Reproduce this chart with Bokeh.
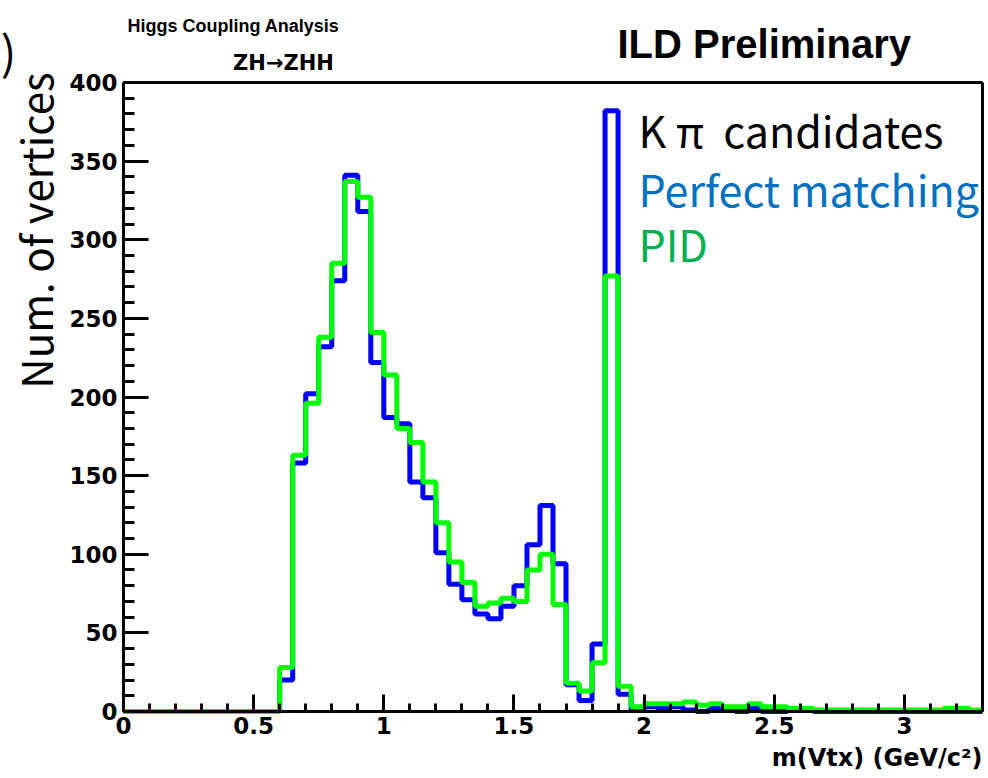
import numpy as np
from bokeh.plotting import figure
from bokeh.models import Range1d, Label, FixedTicker, LinearAxis
from bokeh.embed import file_html
from bokeh.resources import INLINE

# ---- data ----
bin_width = 0.05
x_min, x_max = 0.0, 3.3
y_min, y_max = 0, 400

# K-pi candidates with perfect matching (blue)
blue_counts = [0, 0, 0, 0, 0, 0, 0, 0, 0, 0, 0, 0,
               20, 158, 202, 232, 274, 341, 318, 222, 187, 183,
               146, 136, 101, 81, 71, 62, 59, 67, 80, 106,
               131, 94, 17, 7, 43, 382, 11, 1, 3, 2,
               3, 1, 0, 2, 1, 0, 2, 0, 0, 1,
               1, 0, 0, 0, 0, 0, 0, 0, 0, 0,
               0, 0, 0, 0]
# PID (green)
green_counts = [0, 0, 0, 0, 0, 0, 0, 0, 0, 0, 0, 0,
                28, 163, 196, 238, 285, 337, 327, 241, 214, 180,
                171, 146, 120, 95, 82, 67, 69, 72, 70, 90,
                100, 68, 18, 13, 31, 277, 16, 3, 5, 5,
                5, 6, 4, 5, 3, 3, 5, 3, 3, 2,
                2, 1, 1, 1, 1, 1, 1, 1, 1, 1,
                1, 2, 2, 1, 1, 2]

x_ticks = [0, 0.5, 1, 1.5, 2, 2.5, 3]
x_tick_labels = ["0", "0.5", "1", "1.5", "2", "2.5", "3"]
y_ticks = [0, 50, 100, 150, 200, 250, 300, 350, 400]
y_tick_labels = ["0", "50", "100", "150", "200", "250", "300", "350", "400"]

title_text = "Higgs Coupling Analysis"
process_text = "ZH\u2192ZHH"
ild_text = "ILD Preliminary"
legend_texts = ["K \u03c0 \u00a0candidates", "Perfect matching", "PID"]
legend_colors = ["black", "#0070C0", "#00B050"]
x_label = "m(Vtx) (GeV/c\u00b2)"
y_label = "Num. of vertices"

# ---- layout (pixels of the 988x778 canvas) ----
W, H = 988, 778
frame_left, frame_right, frame_top, frame_bottom = 123, 982, 82, 711
sx = (x_max - x_min) / (frame_right - frame_left)
sy = (y_max - y_min) / (frame_bottom - frame_top)
BASE_SHIFT = 0.45  # label anchor sits this many em above the drawn baseline


def px_to_x(px):
    return x_min + (px - frame_left) * sx


def px_to_y(py):
    return y_min + (frame_bottom - py) * sy


n_bins = len(blue_counts)
edges = np.round(x_min + np.arange(n_bins + 1) * bin_width, 3)
blue_step = list(blue_counts) + [blue_counts[-1]]
green_step = list(green_counts) + [green_counts[-1]]

p = figure(width=W, height=H,
           x_range=Range1d(px_to_x(0), px_to_x(W)),
           y_range=Range1d(px_to_y(H), px_to_y(0)),
           output_backend="svg", toolbar_location=None,
           min_border=0, min_border_left=0, min_border_right=0,
           min_border_top=0, min_border_bottom=0)
p.title.visible = False
p.grid.visible = False
p.background_fill_color = "white"
p.border_fill_color = "white"
p.outline_line_color = None

p.step(edges, blue_step, mode="after", line_color="#0000FF", line_width=5)
p.step(edges, green_step, mode="after", line_color="#00FF00", line_width=5)

# axes placed on the frame edges
minor_x = [round(v, 2) for v in np.arange(x_min, x_max + 0.01, 0.1)]
minor_y = list(range(y_min, y_max + 1, 10))
p.xaxis.ticker = FixedTicker(ticks=x_ticks, minor_ticks=minor_x)
p.yaxis.ticker = FixedTicker(ticks=y_ticks, minor_ticks=minor_y)
p.xaxis.major_label_overrides = {float(t): l for t, l in zip(x_ticks, x_tick_labels)}
p.yaxis.major_label_overrides = {float(t): l for t, l in zip(y_ticks, y_tick_labels)}
p.xaxis.fixed_location = y_min
p.yaxis.fixed_location = x_min
p.xaxis.bounds = (x_min, x_max)
p.yaxis.bounds = (y_min, y_max)

for ax in (p.xaxis[0], p.yaxis[0]):
    ax.axis_line_color = "black"
    ax.axis_line_width = 3
    ax.major_tick_line_color = "black"
    ax.major_tick_line_width = 3
    ax.minor_tick_line_color = "black"
    ax.minor_tick_line_width = 3
    ax.major_tick_out = 0
    ax.minor_tick_out = 0
    ax.major_label_text_font = "DejaVu Sans"
    ax.major_label_text_font_style = "bold"
    ax.major_label_text_font_size = "23px"
    ax.major_label_text_color = "black"

p.xaxis.major_tick_in = 17
p.xaxis.minor_tick_in = 8
p.xaxis.major_label_standoff = 5
p.yaxis.major_tick_in = 25
p.yaxis.minor_tick_in = 11
p.yaxis.major_label_standoff = 6

# top and right frame edges as plain axes
top_axis = LinearAxis(fixed_location=y_max, bounds=(x_min, x_max),
                      ticker=FixedTicker(ticks=[]), axis_line_width=3,
                      axis_line_color="black", major_tick_line_color=None,
                      minor_tick_line_color=None, major_label_text_color=None)
right_axis = LinearAxis(fixed_location=x_max, bounds=(y_min, y_max),
                        ticker=FixedTicker(ticks=[]), axis_line_width=3,
                        axis_line_color="black", major_tick_line_color=None,
                        minor_tick_line_color=None, major_label_text_color=None)
p.add_layout(top_axis, "above")
p.add_layout(right_axis, "right")


def text_label(px, base_py, text, size, font, bold=False, align="left",
               color="black", angle=0.0):
    shift = BASE_SHIFT * size
    if angle:
        x, y = px_to_x(px - shift), px_to_y(base_py)
    else:
        x, y = px_to_x(px), px_to_y(base_py - shift)
    return Label(x=x, y=y, text=text, text_align=align, text_baseline="alphabetic",
                 text_font=font, text_font_style="bold" if bold else "normal",
                 text_font_size=f"{size}px", text_color=color, angle=angle)


labels = [
    text_label(233, 34, title_text, 18, "Liberation Sans", bold=True, align="center"),
    text_label(283, 72, process_text, 21, "DejaVu Sans", bold=True, align="center"),
    text_label(617, 61, ild_text, 40, "Liberation Sans", bold=True),
    text_label(982, 768, x_label, 24, "DejaVu Sans", bold=True, align="right"),
    text_label(53, 230, y_label, 42, "Noto Sans CJK JP", align="center", angle=np.pi / 2),
    text_label(8, 70, ")", 46, "Noto Sans CJK JP", align="center"),
]
for txt, col, base in zip(legend_texts, legend_colors, [148, 207, 262]):
    labels.append(text_label(638, base, txt, 43, "Noto Sans CJK JP", color=col))
for lb in labels:
    p.add_layout(lb)

open("out.html", "w").write(file_html(p, INLINE))
